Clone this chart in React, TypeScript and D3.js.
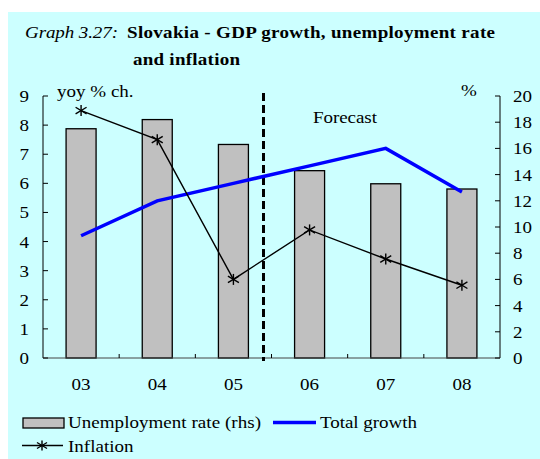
import React from "react";
import * as d3 from "d3";

const categories = ["03", "04", "05", "06", "07", "08"];
const unemployment = [17.5, 18.2, 16.3, 14.3, 13.3, 12.9];
const gdpGrowth = [4.2, 5.4, 6.0, 6.6, 7.2, 5.7];
const inflation = [8.5, 7.5, 2.7, 4.4, 3.4, 2.5];
const leftTicks = [0, 1, 2, 3, 4, 5, 6, 7, 8, 9];
const rightTicks = [0, 2, 4, 6, 8, 10, 12, 14, 16, 18, 20];
const forecastIndex = 3;

const W = 540;
const H = 459;
const FONT = "'Liberation Serif', 'Times New Roman', serif";
const SX = 1.12;

type TProps = {
  x: number;
  y: number;
  size?: number;
  anchor?: "start" | "middle" | "end";
  bold?: boolean;
  italic?: boolean;
  len?: number;
  children: React.ReactNode;
};

function T({ x, y, size = 17, anchor = "start", bold, italic, len, children }: TProps) {
  return (
    <text
      transform={`translate(${x},${y}) scale(${SX},1)`}
      fontSize={size}
      textAnchor={anchor}
      fontWeight={bold ? "bold" : "normal"}
      fontStyle={italic ? "italic" : "normal"}
      fill="#000"
      textLength={len ? len / SX : undefined}
      lengthAdjust={len ? "spacing" : undefined}
    >
      {children}
    </text>
  );
}

export default function App() {
  const left = 43;
  const right = 500;
  const top = 96;
  const bottom = 358;

  const x = d3.scaleBand<string>().domain(categories).range([left, right]).paddingInner(0).paddingOuter(0);
  const yL = d3.scaleLinear().domain([0, 9]).range([bottom, top]);
  const yR = d3.scaleLinear().domain([0, 20]).range([bottom, top]);
  const bw = x.bandwidth();
  const barW = 30;
  const cx = (c: string) => (x(c) as number) + bw / 2;

  const line = d3
    .line<number>()
    .x((_, i) => cx(categories[i]))
    .y((d) => yL(d));

  const forecastX = (x(categories[forecastIndex]) as number) - 8;

  const star = (px: number, py: number, s = 5.5, key?: string) => (
    <g key={key} stroke="#000" strokeWidth={1.4}>
      <line x1={px} y1={py - s} x2={px} y2={py + s} />
      <line x1={px - s} y1={py - s * 0.6} x2={px + s} y2={py + s * 0.6} />
      <line x1={px - s} y1={py + s * 0.6} x2={px + s} y2={py - s * 0.6} />
    </g>
  );

  return (
    <svg width={W} height={H} style={{ position: "absolute", left: 0, top: 0 }} fontFamily={FONT}>
      <rect x={8} y={12} width={W - 8} height={H - 12} fill="#CCFFFF" />
      {/* Title */}
      <T x={25} y={38} italic len={93}>
        Graph 3.27:
      </T>
      <T x={127} y={38} bold len={368}>
        Slovakia - GDP growth, unemployment rate
      </T>
      <T x={133} y={65} bold len={107}>
        and inflation
      </T>

      {/* Bars */}
      {categories.map((c, i) => (
        <rect
          key={c}
          x={cx(c) - barW / 2}
          y={yR(unemployment[i])}
          width={barW}
          height={bottom - yR(unemployment[i])}
          fill="#C0C0C0"
          stroke="#000"
          strokeWidth={1.3}
        />
      ))}

      {/* Axes */}
      <line x1={left} y1={top} x2={left} y2={bottom} stroke="#000" strokeWidth={1} />
      <line x1={right} y1={top} x2={right} y2={bottom} stroke="#000" strokeWidth={1} />
      <line x1={left} y1={bottom} x2={right} y2={bottom} stroke="#444" strokeWidth={1} />
      {leftTicks.map((t) => (
        <g key={"l" + t}>
          <line x1={left} x2={left + 5} y1={yL(t)} y2={yL(t)} stroke="#000" />
          <T x={29} y={yL(t) + 6} anchor="end">
            {t}
          </T>
        </g>
      ))}
      {rightTicks.map((t) => (
        <g key={"r" + t}>
          <line x1={right - 5} x2={right} y1={yR(t)} y2={yR(t)} stroke="#000" />
          <T x={513} y={yR(t) + 6}>
            {t}
          </T>
        </g>
      ))}
      {categories.slice(1).map((c) => (
        <line key={"xt" + c} x1={x(c) as number} x2={x(c) as number} y1={bottom} y2={bottom - 4} stroke="#000" />
      ))}
      {categories.map((c) => (
        <T key={"xl" + c} x={cx(c)} y={390} anchor="middle">
          {c}
        </T>
      ))}

      {/* Forecast divider */}
      <line x1={forecastX} x2={forecastX} y1={93} y2={361} stroke="#000" strokeWidth={3} strokeDasharray="8,4" />
      <T x={313} y={123} len={64}>
        Forecast
      </T>
      <T x={57} y={97}>
        yoy % ch.
      </T>
      <T x={461} y={96}>
        %
      </T>

      {/* GDP line */}
      <path d={line(gdpGrowth) || ""} fill="none" stroke="#0000FF" strokeWidth={3.5} />

      {/* Inflation line */}
      <path d={line(inflation) || ""} fill="none" stroke="#000" strokeWidth={1.4} />
      {inflation.map((v, i) => star(cx(categories[i]), yL(v), 5.5, "s" + i))}

      {/* Legend */}
      <rect x={23} y={418} width={41} height={10} fill="#C0C0C0" stroke="#000" strokeWidth={1.3} />
      <T x={68} y={428} len={193}>
        Unemployment rate (rhs)
      </T>
      <line x1={273} x2={316} y1={422.5} y2={422.5} stroke="#0000FF" strokeWidth={3.5} />
      <T x={320} y={428} len={97}>
        Total growth
      </T>
      <line x1={22} x2={63} y1={445.5} y2={445.5} stroke="#000" strokeWidth={1.4} />
      {star(42, 445.5, 5, "legstar")}
      <T x={68} y={452}>
        Inflation
      </T>
    </svg>
  );
}
